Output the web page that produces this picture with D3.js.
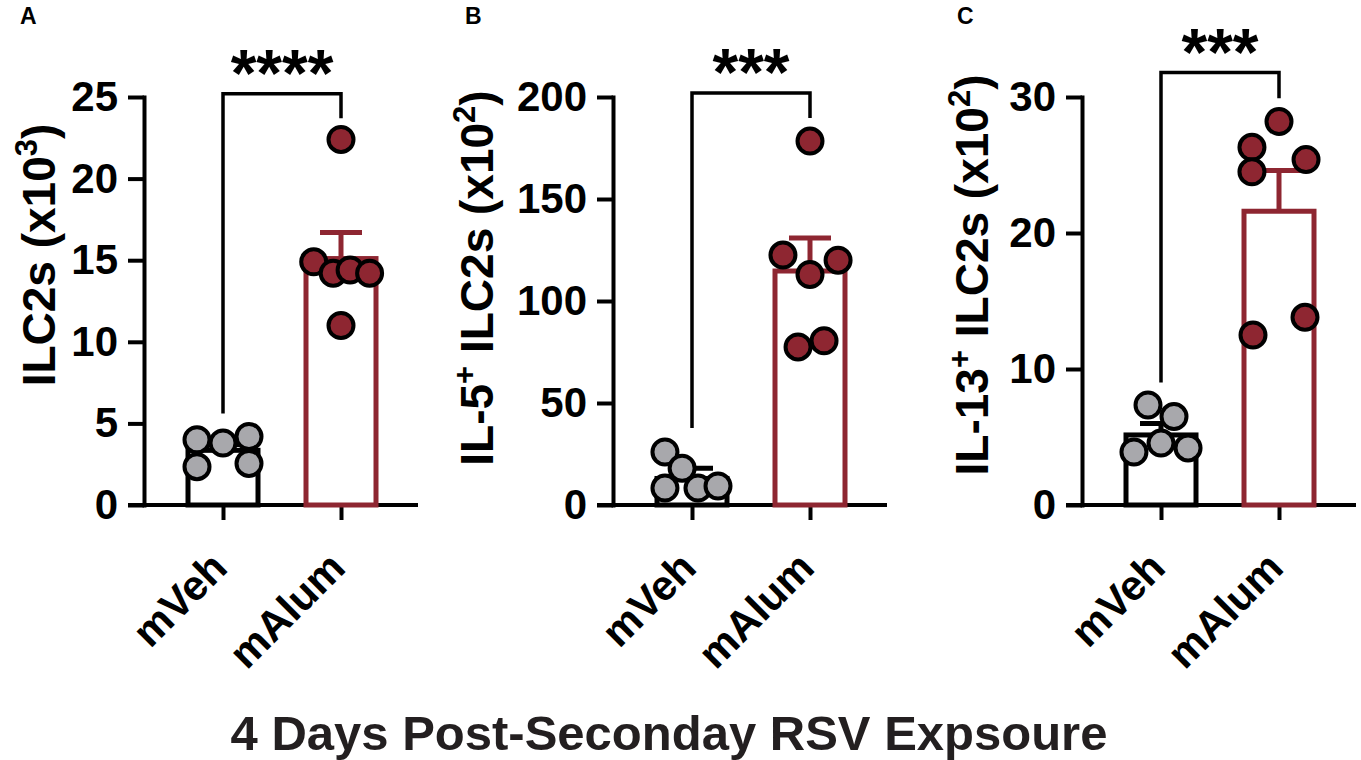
<!DOCTYPE html>
<html>
<head>
<meta charset="utf-8">
<script src="https://cdn.jsdelivr.net/npm/d3@7"></script>
<style>
  body { margin: 0; background: #fff; }
  text { font-family: "Liberation Sans", Arial, Helvetica, sans-serif; font-weight: bold; }
</style>
</head>
<body>
<div id="graf"></div>
<script>
// Data
const groups = ["mVeh", "mAlum"]
const panelLetters = ["A", "B", "C"]
const yMax = [25, 200, 30]
const yTicks = [
  [0, 5, 10, 15, 20, 25],
  [0, 50, 100, 150, 200],
  [0, 10, 20, 30],
]
const yLabels = [
  [["ILC2s (x10"], ["3", "sup"], [")"]],
  [["IL-5"], ["+", "sup"], [" ILC2s (x10"], ["2", "sup"], [")"]],
  [["IL-13"], ["+", "sup"], [" ILC2s (x10"], ["2", "sup"], [")"]],
]
const meanVeh = [3.35, 13, 5.15]
const semVeh = [0.35, 5, 0.85]
const meanAlum = [15.1, 114.7, 21.6]
const semAlum = [1.6, 16.2, 3.0]

const ptsVeh = [
  [4.0, 3.8, 4.2, 2.35, 2.55],
  [26, 18, 8.3, 8.3, 9.3],
  [7.35, 6.5, 3.9, 4.55, 4.2],
]
const ptsAlum = [
  [22.4, 14.9, 14.2, 14.4, 14.2, 11.0],
  [178.4, 122.5, 120, 113, 77.5, 80.5],
  [28.2, 26.3, 25.4, 24.5, 12.5, 13.8],
]
// horizontal scatter of points, in point diameters
const jitVeh = [
  [-1, 0, 1, -1, 1],
  [-1.04, -0.38, -1.04, 0.23, 1.0],
  [-0.5, 0.5, -1.04, 0, 1.04],
]
const jitAlum = [
  [0, -1.05, -0.3, 0.35, 1.1, 0],
  [0, -1.04, 1.08, 0, -0.46, 0.54],
  [0, -1.04, 1.04, -1.04, -1, 1],
]
const stars = ["****", "***", "***"]
const bracketTop = [25.2, 202, 31.8]
const bracketLeft = [5.6, 37.7, 9.0]
const bracketRight = [23.7, 189.7, 29.9]
const title = "4 Days Post-Seconday RSV Expsoure"

// Layout
const anchoTotal = 1361
const altoTotal = 760
const panelX = [144, 613, 1082]
const labelX = [55, 493, 988]
const labelY = [255, 278, 275]
const letterX = [20, 465, 957]
const yTop = 97
const yBottom = 505
const red = "#8e2631"
const gray = "#a8a8ac"
const ptR = 12.5

const svg = d3.select("#graf")
  .append("svg")
  .attr("width", anchoTotal)
  .attr("height", altoTotal)

const render = (i) => {
  const g = svg.append("g").attr("transform", `translate(${panelX[i]}, 0)`)

  const y = d3.scaleLinear().domain([0, yMax[i]]).range([yBottom, yTop])
  const x = d3.scalePoint().domain(groups).range([79, 197])

  // x axis line
  g.append("line")
    .attr("x1", -16).attr("x2", 274)
    .attr("y1", yBottom).attr("y2", yBottom)
    .attr("stroke", "#000").attr("stroke-width", 4)

  // y axis
  const yAxis = g.append("g")
    .call(d3.axisLeft(y).tickValues(yTicks[i]).tickSize(16).tickSizeOuter(0).tickPadding(10))
  yAxis.select(".domain").attr("stroke-width", 4).attr("stroke-linecap", "square")
  yAxis.selectAll(".tick line").attr("stroke-width", 4)
  yAxis.selectAll(".tick text")
    .attr("font-size", 42)
    .attr("font-family", '"Liberation Sans", Arial, sans-serif')
    .attr("fill", "#000")

  // x axis ticks + rotated labels
  const xAxis = g.append("g")
    .attr("transform", `translate(0, ${yBottom})`)
    .call(d3.axisBottom(x).tickSize(15).tickSizeOuter(0))
  xAxis.select(".domain").remove()
  xAxis.selectAll(".tick line").attr("stroke-width", 4)
  xAxis.selectAll(".tick text")
    .attr("font-size", 42)
    .attr("font-family", '"Liberation Sans", Arial, sans-serif')
    .attr("fill", "#000")
    .attr("text-anchor", "end")
    .attr("x", 0).attr("y", 0).attr("dy", 0)
    .attr("transform", "translate(6, 65) rotate(-45)")

  const bars = [
    { grp: groups[0], mean: meanVeh[i], sem: semVeh[i], col: "#000", pts: ptsVeh[i], jit: jitVeh[i], fill: gray },
    { grp: groups[1], mean: meanAlum[i], sem: semAlum[i], col: red, pts: ptsAlum[i], jit: jitAlum[i], fill: red },
  ]

  // bars
  g.selectAll("rect.bar").data(bars).join("rect")
    .attr("class", "bar")
    .attr("x", (d) => x(d.grp) - 35)
    .attr("width", 70)
    .attr("y", (d) => y(d.mean))
    .attr("height", (d) => y(0) - y(d.mean))
    .attr("fill", "#fff")
    .attr("stroke", (d) => d.col)
    .attr("stroke-width", 5)

  // error bars (upper)
  g.selectAll("line.err").data(bars).join("line")
    .attr("class", "err")
    .attr("x1", (d) => x(d.grp)).attr("x2", (d) => x(d.grp))
    .attr("y1", (d) => y(d.mean)).attr("y2", (d) => y(d.mean + d.sem))
    .attr("stroke", (d) => d.col).attr("stroke-width", 5)
  g.selectAll("line.cap").data(bars).join("line")
    .attr("class", "cap")
    .attr("x1", (d) => x(d.grp) - 21).attr("x2", (d) => x(d.grp) + 21)
    .attr("y1", (d) => y(d.mean + d.sem)).attr("y2", (d) => y(d.mean + d.sem))
    .attr("stroke", (d) => d.col).attr("stroke-width", 5)

  // points
  bars.forEach((b) => {
    g.selectAll(null).data(b.pts).join("circle")
      .attr("cx", (v, k) => x(b.grp) + b.jit[k] * ptR * 2.08)
      .attr("cy", (v) => y(v))
      .attr("r", ptR)
      .attr("fill", b.fill)
      .attr("stroke", "#000")
      .attr("stroke-width", 4)
  })

  // significance bracket
  const x0 = x(groups[0])
  const x1 = x(groups[1])
  g.append("path")
    .attr("d", `M${x0},${y(bracketLeft[i])}V${y(bracketTop[i])}H${x1}V${y(bracketRight[i])}`)
    .attr("fill", "none").attr("stroke", "#000").attr("stroke-width", 3.5)
  g.append("text")
    .attr("x", (x0 + x1) / 2)
    .attr("y", y(bracketTop[i]) + 2)
    .attr("text-anchor", "middle")
    .attr("font-size", 66)
    .text(stars[i])

  // y label
  const lab = svg.append("text")
    .attr("transform", `translate(${labelX[i]}, ${labelY[i]}) rotate(-90)`)
    .attr("text-anchor", "middle")
    .attr("font-size", 46)
  let shift = 0
  yLabels[i].forEach(([t, kind]) => {
    const ts = lab.append("tspan").text(t)
    if (kind === "sup") {
      ts.attr("font-size", 31).attr("dy", -18 - shift)
      shift = -18
    } else {
      ts.attr("dy", -shift)
      shift = 0
    }
  })

  // panel letter
  svg.append("text")
    .attr("x", letterX[i]).attr("y", 24)
    .attr("font-size", 23)
    .text(panelLetters[i])
}

panelLetters.forEach((p, i) => render(i))

svg.append("text")
  .attr("x", 669).attr("y", 750)
  .attr("text-anchor", "middle")
  .attr("font-size", 49)
  .attr("fill", "#231f20")
  .text(title)
</script>
</body>
</html>
